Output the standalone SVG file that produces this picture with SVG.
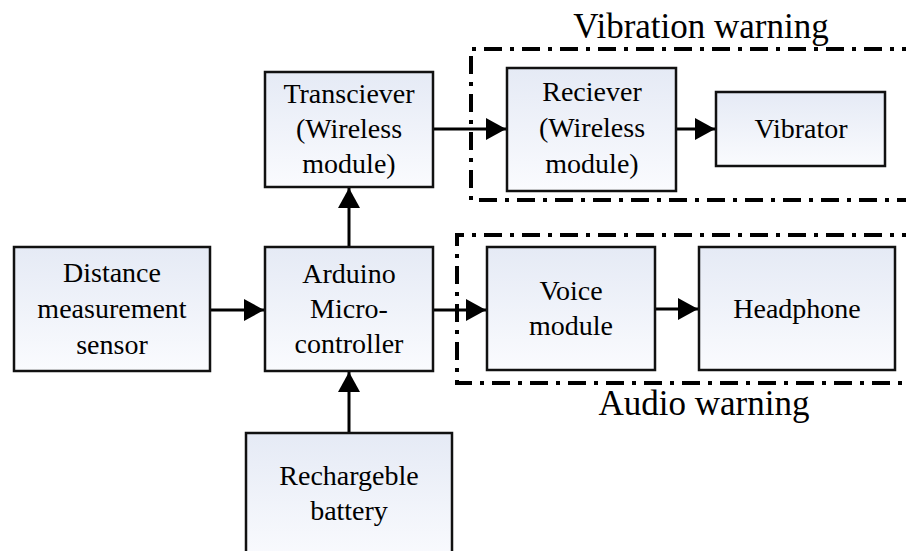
<svg xmlns="http://www.w3.org/2000/svg" width="906" height="551" viewBox="0 0 906 551">
<defs>
<linearGradient id="g" x1="0" y1="0" x2="0" y2="1">
<stop offset="0" stop-color="#E5EAF5"/>
<stop offset="1" stop-color="#FAFBFE"/>
</linearGradient>
<marker id="ah" markerWidth="20" markerHeight="22" refX="20" refY="11" orient="auto" markerUnits="userSpaceOnUse">
<path d="M0,0 L20,11 L0,22 Z" fill="#000"/>
</marker>
<style>
.box{fill:url(#g);stroke:#111;stroke-width:2.5}
svg text, g text.lbl, g text.big{font-family:'Liberation Serif','Times New Roman',serif !important;text-anchor:middle;fill:#000}
.lbl{font-size:28px}
.big{font-size:35px}
.grp{fill:none;stroke:#000;stroke-width:4;stroke-dasharray:18 8 4 8}
.c{stroke:#000;stroke-width:3;fill:none;marker-end:url(#ah)}
</style>
</defs>
<g id="vibration-group">
<path class="grp" d="M920,49 H471 V200 H920"/>
<text class="big" x="701" y="38">Vibration warning</text>
</g>
<g id="audio-group">
<path class="grp" d="M920,235 H457 V383 H920"/>
<text class="big" x="704" y="415">Audio warning</text>
</g>
<g id="connectors">
<line class="c" x1="349" y1="247" x2="349" y2="188"/>
<line class="c" x1="433" y1="129" x2="506" y2="129"/>
<line class="c" x1="676" y1="129" x2="715" y2="129"/>
<line class="c" x1="210" y1="310" x2="264" y2="310"/>
<line class="c" x1="433" y1="310" x2="486" y2="310"/>
<line class="c" x1="655" y1="309" x2="698" y2="309"/>
<line class="c" x1="349" y1="433" x2="349" y2="372"/>
</g>
<g id="transciever" font-family="Liberation Serif">
<rect class="box" x="265" y="72" width="168" height="115"/>
<text class="lbl" x="349" y="103" style="font-family:'Liberation Serif',serif">Transciever</text>
<text class="lbl" x="349" y="138" style="font-family:'Liberation Serif',serif">(Wireless</text>
<text class="lbl" x="349" y="173" style="font-family:'Liberation Serif',serif">module)</text>
</g>
<g id="reciever" font-family="Liberation Serif">
<rect class="box" x="507" y="68" width="169" height="123"/>
<text class="lbl" x="592" y="101" style="font-family:'Liberation Serif',serif">Reciever</text>
<text class="lbl" x="592" y="137" style="font-family:'Liberation Serif',serif">(Wireless</text>
<text class="lbl" x="592" y="173" style="font-family:'Liberation Serif',serif">module)</text>
</g>
<g id="vibrator" font-family="Liberation Serif">
<rect class="box" x="716" y="92" width="169" height="74"/>
<text class="lbl" x="801" y="138" style="font-family:'Liberation Serif',serif">Vibrator</text>
</g>
<g id="distance-sensor" font-family="Liberation Serif">
<rect class="box" x="14" y="247" width="196" height="124"/>
<text class="lbl" x="112" y="282" style="font-family:'Liberation Serif',serif">Distance</text>
<text class="lbl" x="112" y="318" style="font-family:'Liberation Serif',serif">measurement</text>
<text class="lbl" x="112" y="354" style="font-family:'Liberation Serif',serif">sensor</text>
</g>
<g id="arduino" font-family="Liberation Serif">
<rect class="box" x="265" y="247" width="168" height="124"/>
<text class="lbl" x="349" y="283" style="font-family:'Liberation Serif',serif">Arduino</text>
<text class="lbl" x="349" y="318" style="font-family:'Liberation Serif',serif">Micro-</text>
<text class="lbl" x="349" y="353" style="font-family:'Liberation Serif',serif">controller</text>
</g>
<g id="voice-module" font-family="Liberation Serif">
<rect class="box" x="487" y="247" width="168" height="123"/>
<text class="lbl" x="571" y="300" style="font-family:'Liberation Serif',serif">Voice</text>
<text class="lbl" x="571" y="335" style="font-family:'Liberation Serif',serif">module</text>
</g>
<g id="headphone" font-family="Liberation Serif">
<rect class="box" x="699" y="247" width="196" height="123"/>
<text class="lbl" x="797" y="318" style="font-family:'Liberation Serif',serif">Headphone</text>
</g>
<g id="battery" font-family="Liberation Serif">
<rect class="box" x="246" y="433" width="206" height="130"/>
<text class="lbl" x="349" y="485" style="font-family:'Liberation Serif',serif">Rechargeble</text>
<text class="lbl" x="349" y="520" style="font-family:'Liberation Serif',serif">battery</text>
</g>
</svg>
